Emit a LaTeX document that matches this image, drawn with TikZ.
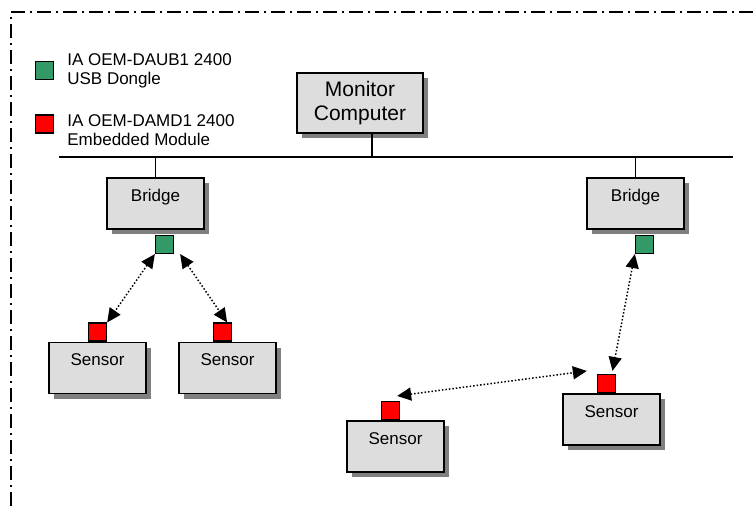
\documentclass[tikz,border=0pt]{standalone}
\usepackage{fontspec}
\setmainfont{Liberation Sans}
\usetikzlibrary{positioning, shadows}
\usetikzlibrary{arrows.meta}
\definecolor{boxgray}{HTML}{DDDDDD}
\definecolor{shadowgray}{HTML}{808080}
\definecolor{donglegreen}{HTML}{339966}
\tikzstyle{unit-box}=[
draw,
line width=1.5pt,
fill=boxgray,
drop shadow={shadow xshift=5pt, shadow yshift=-5pt, fill=shadowgray, opacity=1},
minimum width=97pt,
inner sep=0pt,
text height=23pt,
text depth=28pt,
font=\fontsize{17}{19}\selectfont,
]
\tikzstyle{chip}=[
draw,
line width=1.3pt,
minimum size=18pt,
inner sep=0pt,
]
\tikzstyle{radio-link}=[
dotted,
line width=1.5pt,
{Triangle[length=14pt,width=13pt]}-{Triangle[length=14pt,width=13pt]},
]

\begin{document}
\begin{tikzpicture}[x=1pt, y=-1pt]
        \useasboundingbox (0,0) rectangle (753,506);
        \newcommand{\sensorbox}[4]
        {
          \node[unit-box] (#1) at (#2,#3) {Sensor};
          \node[chip, fill=red, above=0pt of {#1.north}, xshift=#4] (mod#1) {};
        }

        % frame
        \draw[line width=1.5pt, dash pattern=on 14pt off 5pt on 2pt off 5pt]
          (753,12) -- (11,12) -- (11,506);

        % legend
        \node[chip, fill=donglegreen] (leg1) at (44.5,70.5) {};
        \node[right=13pt of leg1, align=left, inner sep=0pt,
          font=\fontsize{17}{19}\selectfont] (legtext1) {IA OEM-DAUB1 2400\\USB Dongle};
        \node[chip, fill=red] (leg2) at (44.5,124) {};
        \node[right=13pt of leg2, yshift=-6pt, align=left, inner sep=0pt,
          font=\fontsize{17}{19}\selectfont] (legtext2) {IA OEM-DAMD1 2400\\Embedded Module};

        % monitor and bus
        \node[unit-box, minimum width=126pt, minimum height=60pt, text height=, text depth=,
          align=center, font=\fontsize{21}{24}\selectfont] (monitor) at (360,103) {Monitor\\Computer};
        \coordinate (busL) at (59,157);
        \coordinate (busR) at (733,157);
        \draw[line width=1.5pt] (busL) -- (busR);
        \draw[line width=1.5pt] ([xshift=12pt]monitor.south) -- ([xshift=12pt]monitor.south |- busL);

        % bridges
        \node[unit-box] (bridgeL) at (155.5,203.5) {Bridge};
        \node[chip, fill=donglegreen, below=5pt of bridgeL.south, xshift=9pt] (dongleL) {};
        \node[unit-box] (bridgeR) at (635.5,203.5) {Bridge};
        \node[chip, fill=donglegreen, below=5pt of bridgeR.south, xshift=9pt] (dongleR) {};
        \draw[line width=1.5pt] (bridgeL.north) -- (bridgeL.north |- busL);
        \draw[line width=1.5pt] (bridgeR.north) -- (bridgeR.north |- busL);

        % sensors
        \sensorbox{sensA}{97.5}{368}{0pt}
        \sensorbox{sensB}{227.5}{368}{-5pt}
        \sensorbox{sensC}{395.5}{446.5}{-5pt}
        \sensorbox{sensD}{611.5}{419.5}{-5pt}

        % radio links
        \draw[radio-link] (dongleL.south west) -- (modsensA.north east);
        \draw[radio-link] ([xshift=6pt]dongleL.south east) -- ([xshift=-5pt]modsensB.north east);
        \draw[radio-link] (dongleR.south west) -- ([xshift=6pt, yshift=3pt]modsensD.north);
        \draw[radio-link] ([xshift=-3pt, yshift=5pt]modsensC.north east) -- ([xshift=-10pt, yshift=3pt]modsensD.north west);
      \end{tikzpicture}
\end{document}
